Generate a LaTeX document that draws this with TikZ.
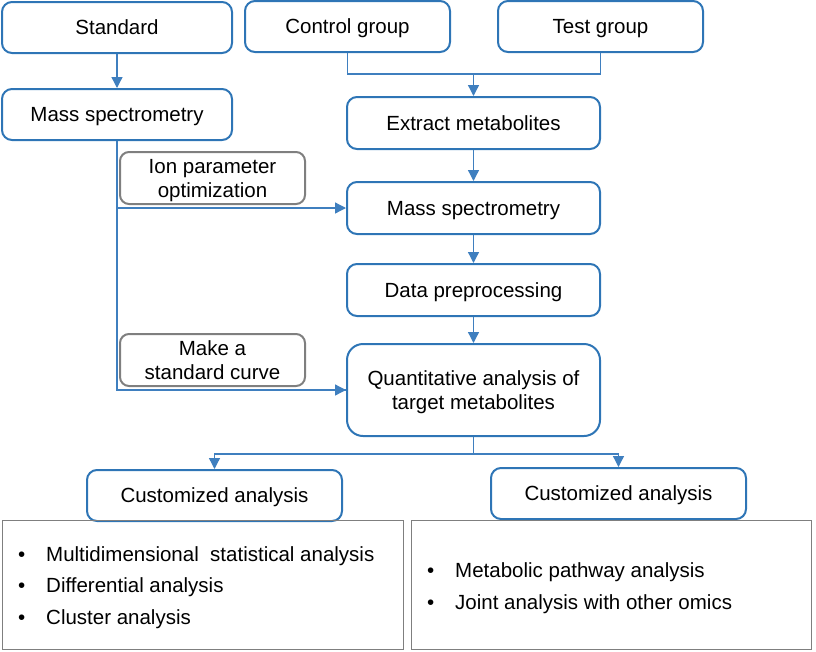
\documentclass[tikz,border=0pt]{standalone}
\usepackage{fontspec}
\setmainfont{Liberation Sans}
\usetikzlibrary{arrows.meta}
\definecolor{bblue}{HTML}{2E75B6}
\definecolor{lblue}{HTML}{3F7FBF}
\definecolor{bgray}{HTML}{7F7F7F}
\begin{document}
\begin{tikzpicture}[x=1pt,y=-1pt,
  every node/.style={font=\fontsize{20.5}{24}\selectfont, text=black},
  one/.style={text height=17pt, text depth=2.3pt},
  two/.style={text height=41pt, text depth=2.3pt},
  bbox/.style={draw=bblue, line width=2pt, rounded corners=10pt, align=center, inner sep=0pt},
  gbox/.style={draw=bgray, line width=2pt, rounded corners=9pt, align=center, inner sep=0pt},
  lbox/.style={draw=bgray, line width=1pt, inner sep=0pt},
  conn/.style={draw=lblue, line width=1.3pt},
  arr/.style={conn, -{Triangle[length=11pt,width=11pt]}},
  item/.style={anchor=west, inner sep=0pt, text height=17pt, text depth=2.3pt}
]
\path[use as bounding box] (0,0) rectangle (816,651);

\node[bbox, one, minimum width=230pt, minimum height=51pt] (std) at (117,27.5) {Standard};
\node[bbox, one, minimum width=205pt, minimum height=51pt] (cg) at (347.5,26.5) {Control group};
\node[bbox, one, minimum width=205pt, minimum height=51pt] (tg) at (600.5,26.5) {Test group};
\node[bbox, one, minimum width=230pt, minimum height=51pt] (msl) at (117,114.5) {Mass spectrometry};
\node[bbox, one, minimum width=253pt, minimum height=52pt] (em) at (473.5,123) {Extract metabolites};
\node[gbox, two, minimum width=185pt, minimum height=52pt] (ipo) at (212.5,178) {Ion parameter\\optimization};
\node[bbox, one, minimum width=253pt, minimum height=52pt] (ms2) at (473.5,208) {Mass spectrometry};
\node[bbox, one, minimum width=253pt, minimum height=52pt] (dp) at (473.5,290) {Data preprocessing};
\node[gbox, two, minimum width=185pt, minimum height=52pt] (msc) at (212.5,360) {Make a\\standard curve};
\node[bbox, two, rounded corners=16pt, minimum width=253pt, minimum height=92pt] (qa) at (473.5,390) {Quantitative analysis of\\target metabolites};
\node[bbox, one, minimum width=255pt, minimum height=51pt] (ca1) at (214.5,495.5) {Customized analysis};
\node[bbox, one, minimum width=255pt, minimum height=51pt] (ca2) at (618.5,493.5) {Customized analysis};

\node[lbox, minimum width=401pt, minimum height=129pt] (lb1) at (202.5,584.5) {};
\node[lbox, minimum width=400pt, minimum height=129pt] (lb2) at (611,584.5) {};

\node[item] (b1) at (18,554.3) {•};
\node[item] (t1) at (46,554.3) {Multidimensional\ \ statistical analysis};
\node[item] (b2) at (18,585.3) {•};
\node[item] (t2) at (46,585.3) {Differential analysis};
\node[item] (b3) at (18,617) {•};
\node[item] (t3) at (46,617) {Cluster analysis};
\node[item] (b4) at (427,570) {•};
\node[item] (t4) at (455,570) {Metabolic pathway analysis};
\node[item] (b5) at (427,602) {•};
\node[item] (t5) at (455,602) {Joint analysis with other omics};

\coordinate (j1) at (473.5,74);
\coordinate (j2) at (473.5,454);

\draw[arr] (std.south) -- (msl.north);
\draw[conn] (cg.south) |- (j1) -| (tg.south);
\draw[arr] (j1) -- (em.north);
\draw[arr] (em.south) -- (ms2.north);
\draw[arr] (ms2.south) -- (dp.north);
\draw[arr] (dp.south) -- (qa.north);
\draw[conn] (msl.south) |- (qa.west);
\draw[arr] (msl.south |- qa.west) -- (qa.west);
\draw[arr] (msl.south |- ms2.west) -- (ms2.west);
\draw[conn] (qa.south) -- (j2);
\draw[arr] (j2) -| (ca1.north);
\draw[arr] (j2) -| (ca2.north);
\end{tikzpicture}
\end{document}
